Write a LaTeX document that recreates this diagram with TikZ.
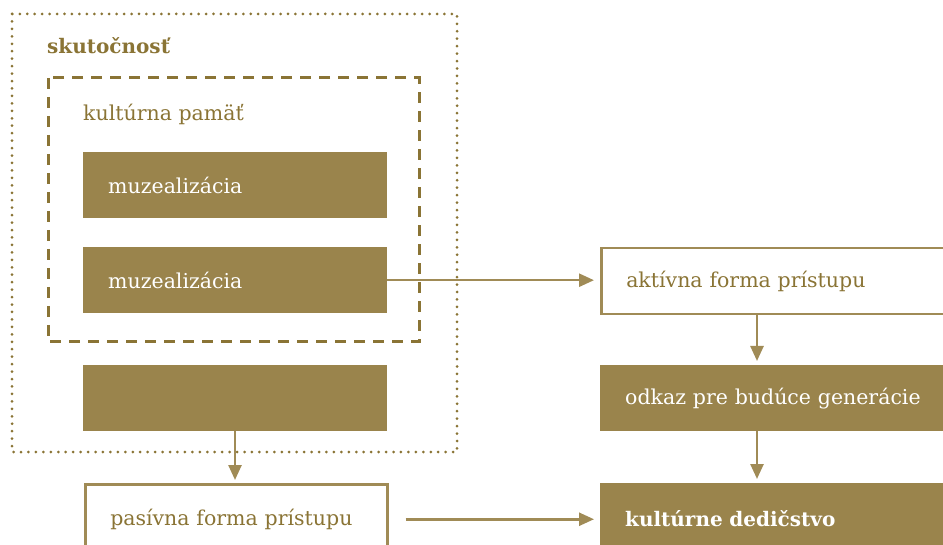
\documentclass[tikz,border=0pt]{standalone}
\usepackage{fontspec}
\setmainfont{DejaVu Serif}
\usetikzlibrary{arrows.meta}
\definecolor{gold}{HTML}{9A844C}
\definecolor{goldtxt}{HTML}{8A7435}
\definecolor{goldline}{HTML}{A08B56}
\begin{document}
\begin{tikzpicture}[x=1pt,y=-1pt,
  txt/.style={font=\fontsize{20.5}{24}\selectfont},
  fbox/.style={rectangle, fill=gold, text=white, txt, anchor=north west, inner xsep=25pt, inner ysep=0pt, align=left},
  obox/.style={rectangle, draw=goldline, line width=2.5pt, fill=white, text=goldtxt, txt, anchor=north west, inner xsep=25pt, inner ysep=0pt, align=left},
  arr/.style={draw=goldline, line width=2.5pt, -{Triangle[length=15pt,width=13pt]}},
  lbl/.style={text=goldtxt, anchor=west, inner sep=0pt}]
\useasboundingbox (0,0) rectangle (943,545);
\clip (0,0) rectangle (943,545);
% outer dotted frame
\draw[goldtxt, line width=3pt, line cap=round, dash pattern=on 0pt off 7.45pt] (12,14) rectangle (457,452);
\node[lbl, font=\fontsize{20}{24}\selectfont\bfseries] (sk) at (47,46) {skutočnosť};
% dashed frame
\draw[goldtxt, line width=3pt, dash pattern=on 11pt off 8pt] (48,78) rectangle (419,342);
\node[lbl, txt] (kp) at (83,114) {kultúrna pamäť};
% boxes
\node[fbox, minimum width=304pt, minimum height=66pt, text width=254pt] (m1) at (83,152) {muzealizácia};
\node[fbox, minimum width=304pt, minimum height=66pt, text width=254pt] (m2) at (83,247) {muzealizácia};
\node[fbox, minimum width=304pt, minimum height=66pt, text width=254pt] (m3) at (83,365) {};
\node[obox, minimum width=302pt, minimum height=70pt, text width=252pt] (pas) at (84,483) {pasívna forma prístupu};
\node[obox, minimum width=370pt, minimum height=66pt, text width=320pt] (akt) at (600,247) {aktívna forma prístupu};
\node[fbox, minimum width=370pt, minimum height=66pt, text width=320pt] (odk) at (600,365) {odkaz pre budúce generácie};
\node[fbox, minimum width=370pt, minimum height=70pt, text width=320pt, font=\fontsize{20}{24}\selectfont\bfseries] (kd) at (600,483) {kultúrne dedičstvo};
% arrows
\draw[arr, shorten >=6pt] (m2.east) -- (m2.east -| akt.west);
\draw[arr, shorten >=3pt] (m3.south -| 235,0) -- (pas.north -| 235,0);
\draw[arr, shorten <=17pt, shorten >=6pt] (pas.east) -- (pas.east -| kd.west);
\draw[arr, shorten >=4pt] (akt.south -| 757,0) -- (odk.north -| 757,0);
\draw[arr, shorten >=4pt] (odk.south -| 757,0) -- (kd.north -| 757,0);
\end{tikzpicture}
\end{document}
